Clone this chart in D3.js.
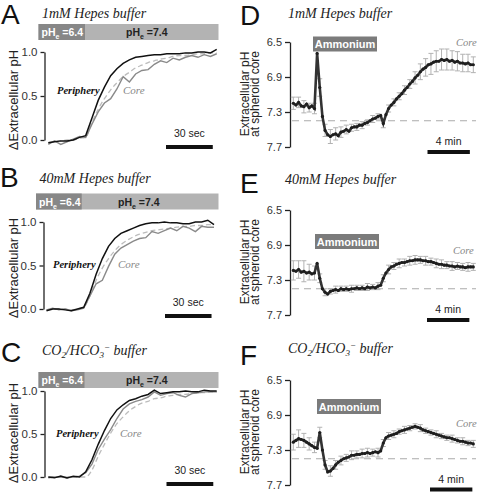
<!DOCTYPE html>
<html><head><meta charset="utf-8">
<script src="https://cdn.jsdelivr.net/npm/d3@7"></script>
<style>body{margin:0;background:#fff}svg{display:block}</style>
</head><body>
<svg id="c" width="477" height="492"></svg>
<script>
// ---------- DATA ----------
const secT = [0,4,8,12,16,20,24,28,32,36,40,44,48,52,56,60,64,68,72,76,80,84,88,92,96,100,104,108];
const leftTicks = [0, 0.5, 1.0];
const rightTicks = [6.5, 6.9, 7.3, 7.7];

const periA = [-0.03,-0.02,-0.01,-0.01,0.00,0.03,0.05,0.25,0.45,0.60,0.73,0.81,0.87,0.91,0.94,0.95,0.96,0.97,0.97,0.98,0.98,0.98,0.99,0.99,1.00,1.00,0.99,1.03];
const coreA = [-0.05,-0.01,-0.05,-0.02,0.01,0.04,0.03,0.18,0.32,0.42,0.47,0.58,0.72,0.66,0.75,0.79,0.80,0.86,0.90,0.88,0.93,0.91,0.94,0.96,0.94,0.97,0.95,0.98];
const fitA  = [-0.03,-0.02,-0.01,0.00,0.00,0.02,0.03,0.20,0.35,0.47,0.57,0.65,0.72,0.77,0.82,0.85,0.88,0.90,0.92,0.93,0.95,0.96,0.96,0.97,0.98,0.98,0.99,0.99];

const periB = [-0.02,0.00,0.00,-0.01,-0.02,0.00,0.02,0.18,0.40,0.58,0.72,0.81,0.87,0.90,0.93,0.96,0.98,0.99,0.99,1.00,0.99,0.99,0.98,0.98,1.00,1.00,1.02,0.97];
const coreB = [-0.01,0.01,-0.01,0.00,-0.02,-0.01,0.01,0.15,0.29,0.33,0.49,0.63,0.70,0.74,0.78,0.81,0.82,0.89,0.87,0.90,0.93,0.90,0.95,0.93,0.89,0.95,0.94,0.94];
const fitB  = [-0.01,0.00,0.00,0.00,-0.01,0.00,0.02,0.15,0.33,0.47,0.58,0.67,0.74,0.79,0.83,0.86,0.88,0.90,0.91,0.92,0.93,0.94,0.95,0.95,0.96,0.96,0.97,0.97];

const periC = [0.00,-0.01,0.01,-0.01,0.01,0.00,0.06,0.20,0.38,0.54,0.68,0.78,0.84,0.89,0.91,0.94,0.96,1.01,0.97,0.98,0.99,0.99,1.00,0.99,0.99,1.01,1.00,1.00];
const coreC = [-0.01,0.00,0.00,-0.01,0.00,0.01,0.05,0.15,0.32,0.44,0.55,0.68,0.79,0.85,0.88,0.90,0.93,0.99,0.95,0.97,0.98,0.95,0.93,0.97,0.98,0.99,0.99,0.99];
const fitC  = [0.00,0.00,0.00,0.00,0.00,0.00,0.00,0.08,0.24,0.38,0.51,0.62,0.70,0.77,0.82,0.86,0.88,0.91,0.92,0.94,0.95,0.96,0.96,0.97,0.98,0.98,0.99,0.99];

const minT = [0,0.25,0.5,0.75,1,1.25,1.5,1.75,2,2.25,2.5,2.75,3,3.25,3.5,3.75,4,4.25,4.5,4.75,5,5.25,5.5,5.75,6,6.25,6.5,6.75,7,7.25,7.5,7.75,8,8.25,8.5,8.75,9,9.25,9.5,9.75,10,10.25,10.5,10.75,11,11.25,11.5,11.75,12,12.25,12.5,12.75,13,13.25,13.5,13.75,14,14.25,14.5,14.75,15,15.25,15.5,15.75,16,16.25,16.5,16.75,17];
const errT = [0,0.5,1,1.5,2,2.5,3,3.5,4,4.5,5,5.5,6,6.5,7,7.5,8,8.5,9,9.5,10,10.5,11,11.5,12,12.5,13,13.5,14,14.5,15,15.5,16,16.5,17];

const phD = [7.20,7.22,7.19,7.23,7.24,7.21,7.25,7.23,7.26,6.63,7.02,7.35,7.51,7.56,7.58,7.56,7.55,7.57,7.53,7.52,7.50,7.52,7.48,7.47,7.47,7.45,7.45,7.43,7.42,7.40,7.38,7.37,7.35,7.34,7.43,7.33,7.26,7.22,7.19,7.15,7.12,7.09,7.05,7.02,6.98,6.95,6.91,6.88,6.84,6.81,6.79,6.76,6.75,6.73,6.72,6.72,6.70,6.71,6.70,6.72,6.71,6.73,6.72,6.74,6.74,6.75,6.74,6.76,6.76];
const errD = [0.07,0.06,0.07,0.05,0.06,0.10,0.07,0.08,0.07,0.06,0.05,0.04,0.04,0.04,0.03,0.04,0.03,0.05,0.04,0.04,0.04,0.05,0.05,0.07,0.09,0.10,0.12,0.12,0.12,0.12,0.11,0.11,0.10,0.10,0.09];

const phE = [7.19,7.20,7.18,7.21,7.20,7.22,7.21,7.23,7.22,7.11,7.28,7.40,7.44,7.46,7.43,7.42,7.41,7.42,7.40,7.41,7.40,7.41,7.40,7.40,7.39,7.40,7.39,7.40,7.38,7.39,7.38,7.39,7.37,7.36,7.28,7.22,7.18,7.15,7.14,7.12,7.11,7.10,7.10,7.09,7.08,7.08,7.07,7.07,7.07,7.08,7.08,7.09,7.09,7.10,7.11,7.12,7.12,7.13,7.13,7.14,7.14,7.15,7.14,7.15,7.15,7.16,7.15,7.15,7.15];
const errE = [0.11,0.10,0.12,0.09,0.08,0.05,0.04,0.03,0.04,0.03,0.03,0.04,0.03,0.03,0.04,0.03,0.04,0.04,0.05,0.04,0.05,0.04,0.05,0.05,0.04,0.05,0.04,0.05,0.05,0.04,0.05,0.04,0.04,0.05,0.04];

const phF = [7.21,7.19,7.17,7.18,7.19,7.21,7.23,7.25,7.27,7.28,7.10,7.30,7.47,7.55,7.54,7.51,7.47,7.44,7.42,7.40,7.39,7.38,7.36,7.36,7.35,7.35,7.34,7.34,7.33,7.34,7.33,7.32,7.33,7.31,7.22,7.16,7.14,7.13,7.12,7.11,7.09,7.08,7.07,7.06,7.05,7.04,7.03,7.04,7.05,7.07,7.08,7.09,7.10,7.11,7.12,7.13,7.14,7.15,7.16,7.16,7.17,7.18,7.19,7.20,7.20,7.21,7.22,7.22,7.23];
const errF = [0.09,0.10,0.08,0.07,0.06,0.06,0.05,0.06,0.05,0.05,0.04,0.05,0.04,0.05,0.05,0.04,0.05,0.04,0.04,0.04,0.03,0.04,0.03,0.03,0.04,0.03,0.03,0.04,0.03,0.03,0.04,0.03,0.04,0.03,0.04];

const restPH = 7.4;
const phLow = "6.4", phHigh = "7.4";

// ---------- DRAWING ----------
const svg = d3.select('#c');
const SANS = "'Liberation Sans', Arial, sans-serif";
const SERIF = "'Liberation Serif', 'Times New Roman', serif";

function letter(x, y, t) {
  svg.append('text').attr('x', x).attr('y', y).text(t)
    .style('font-family', SANS).style('font-size', '28px').attr('fill', '#111');
}
function title(g, x, y, parts) {
  const t = g.append('text').attr('x', x).attr('y', y)
    .style('font-family', SERIF).style('font-style', 'italic').style('font-size', '14px').attr('fill', '#222');
  parts.forEach(p => {
    const s = t.append('tspan').text(p.t);
    if (p.dy) s.attr('dy', p.dy);
    if (p.small) s.style('font-size', '9px');
  });
}
function phText(g, x, y, val, fill) {
  const t = g.append('text').attr('x', x).attr('y', y)
    .style('font-family', SANS).style('font-weight', 'bold').style('font-size', '10.5px').attr('fill', fill);
  t.append('tspan').text('pH');
  t.append('tspan').text('e').attr('dy', 3).style('font-size', '7px');
  t.append('tspan').text(' =' + val).attr('dy', -3);
}

function leftPanel(p) {
  const g = svg.append('g');
  const x = d3.scaleLinear().domain([0, 108]).range([p.x0, p.x1]);
  const y = d3.scaleLinear().domain([0, 1]).range([p.yZero, p.yOne]);
  letter(p.lx, p.ly, p.letter);
  title(g, p.tx, p.ty, p.title);
  g.append('rect').attr('x', p.barX0).attr('y', p.barY).attr('width', p.barX1 - p.barX0).attr('height', 16).attr('fill', '#b3b3b3');
  g.append('rect').attr('x', p.barX0).attr('y', p.barY).attr('width', p.barDark - p.barX0).attr('height', 16).attr('fill', '#878787');
  phText(g, p.barX0 + 3, p.barY + 12, phLow, '#fff');
  phText(g, p.hiX, p.barY + 12, phHigh, '#222');
  const ax = g.append('g').attr('transform', `translate(${p.ax},0)`)
    .call(d3.axisLeft(y).tickValues(leftTicks).tickFormat(d3.format('.1f')).tickSize(4).tickSizeOuter(0).tickPadding(3));
  ax.select('.domain').attr('stroke', '#222').attr('stroke-width', 1.3);
  ax.selectAll('.tick line').attr('stroke', '#222').attr('stroke-width', 1.3);
  ax.selectAll('.tick text').style('font-family', SANS).style('font-size', '11.5px').attr('fill', '#333');
  g.append('text').attr('transform', `translate(17.5,${p.labY}) rotate(-90)`).attr('text-anchor', 'middle')
    .style('font-family', SANS).style('font-size', '13px').attr('fill', '#222').text('\u0394Extracellular pH');
  const mk = arr => secT.map((t, i) => [t, arr[i]]);
  const line = d3.line().x(d => x(d[0])).y(d => y(d[1]));
  const smooth = d3.line().x(d => x(d[0])).y(d => y(d[1])).curve(d3.curveMonotoneX);
  g.append('path').attr('d', smooth(mk(p.fit))).attr('fill', 'none').attr('stroke', '#bcbcbc').attr('stroke-width', 1.3).attr('stroke-dasharray', '5,3');
  g.append('path').attr('d', line(mk(p.core))).attr('fill', 'none').attr('stroke', '#8a8a8a').attr('stroke-width', 1.4);
  g.append('path').attr('d', line(mk(p.peri))).attr('fill', 'none').attr('stroke', '#111').attr('stroke-width', 1.5);
  g.append('text').attr('x', p.px).attr('y', p.py).text('Periphery')
    .style('font-family', SERIF).style('font-style', 'italic').style('font-weight', 'bold').style('font-size', '10.5px').attr('fill', '#111');
  g.append('text').attr('x', p.cx).attr('y', p.py).text('Core')
    .style('font-family', SERIF).style('font-style', 'italic').style('font-size', '11px').attr('fill', '#888');
  const w = x(30) - x(0);
  g.append('rect').attr('x', p.sbx).attr('y', p.sby - 2).attr('width', w).attr('height', 4).attr('fill', '#111');
  g.append('text').attr('x', p.sbx + w / 2).attr('y', p.sby - 10).attr('text-anchor', 'middle')
    .style('font-family', SANS).style('font-size', '10.5px').attr('fill', '#222').text('30 sec');
}

function rightPanel(p) {
  const g = svg.append('g');
  const x = d3.scaleLinear().domain([0, 17]).range([293.3, 473.3]);
  const y = d3.scaleLinear().domain([6.5, 7.7]).range([p.yTop, p.yBot]);
  letter(240, p.ly, p.letter);
  title(g, p.tx, p.ty, p.title);
  const ax = g.append('g').attr('transform', 'translate(290,0)')
    .call(d3.axisLeft(y).tickValues(rightTicks).tickFormat(d3.format('.1f')).tickSize(5).tickSizeOuter(0).tickPadding(3));
  ax.select('.domain').attr('stroke', '#222').attr('stroke-width', 1.3);
  ax.selectAll('.tick line').attr('stroke', '#222').attr('stroke-width', 1.3);
  ax.selectAll('.tick text').style('font-family', SANS).style('font-size', '11px').attr('fill', '#333');
  const lab = g.append('text').attr('transform', `translate(0,${p.labY}) rotate(-90)`).attr('text-anchor', 'middle')
    .style('font-family', SANS).style('font-size', '12px').attr('fill', '#222');
  lab.append('tspan').attr('x', 0).attr('y', 248.5).text('Extracellular pH');
  lab.append('tspan').attr('x', 0).attr('y', 259).text('at spheroid core');
  g.append('line').attr('x1', 292).attr('x2', 476).attr('y1', y(restPH)).attr('y2', y(restPH))
    .attr('stroke', '#ababab').attr('stroke-width', 1.2).attr('stroke-dasharray', '7,5');
  errT.forEach((t, i) => {
    const v = p.ph[minT.indexOf(t)], e = p.err[i], xx = x(t);
    g.append('line').attr('x1', xx).attr('x2', xx).attr('y1', y(v - e)).attr('y2', y(v + e)).attr('stroke', '#b2b2b2').attr('stroke-width', 1);
    [v - e, v + e].forEach(c => g.append('line').attr('x1', xx - 2.5).attr('x2', xx + 2.5).attr('y1', y(c)).attr('y2', y(c)).attr('stroke', '#b2b2b2').attr('stroke-width', 1));
  });
  const pts = minT.map((t, i) => [t, p.ph[i]]);
  g.append('path').attr('d', d3.line().x(d => x(d[0])).y(d => y(d[1]))(pts))
    .attr('fill', 'none').attr('stroke', '#333').attr('stroke-width', 2.6);
  g.selectAll(null).data(pts).enter().append('circle').attr('cx', d => x(d[0])).attr('cy', d => y(d[1])).attr('r', 1.6).attr('fill', '#1e1e1e');
  g.append('rect').attr('x', p.bx).attr('y', p.by).attr('width', 64).attr('height', 15).attr('fill', '#7b7b7b');
  g.append('text').attr('x', p.bx + 32).attr('y', p.by + 11.5).attr('text-anchor', 'middle')
    .style('font-family', SANS).style('font-weight', 'bold').style('font-size', '11px').attr('fill', '#fff').text('Ammonium');
  g.append('text').attr('x', p.cx).attr('y', p.cy).text('Core')
    .style('font-family', SERIF).style('font-style', 'italic').style('font-size', '10.5px').attr('fill', '#888');
  const w = x(4) - x(0);
  g.append('rect').attr('x', p.sbx).attr('y', p.sby - 2).attr('width', w).attr('height', 4).attr('fill', '#111');
  g.append('text').attr('x', p.sbx + w / 2).attr('y', p.sby - 7).attr('text-anchor', 'middle')
    .style('font-family', SANS).style('font-size', '10.5px').attr('fill', '#222').text('4 min');
}

const tA = [{t: '1mM Hepes buffer'}];
const tB = [{t: '40mM Hepes buffer'}];
const tC = [{t: 'CO'}, {t: '2', dy: 3, small: true}, {t: '/HCO', dy: -3}, {t: '3', dy: 3, small: true}, {t: '\u2212', dy: -8, small: true}, {t: ' buffer', dy: 5}];

leftPanel({letter: 'A', lx: 1, ly: 24, tx: 42, ty: 18, title: tA,
  barX0: 38.5, barX1: 218.5, barY: 24, barDark: 85, hiX: 126,
  ax: 44.5, x0: 48.3, x1: 216.7, yZero: 140, yOne: 52, labY: 100,
  peri: periA, core: coreA, fit: fitA, px: 57, cx: 123, py: 94, sbx: 166, sby: 147});
leftPanel({letter: 'B', lx: 0, ly: 187, tx: 39.5, ty: 183, title: tB,
  barX0: 36, barX1: 218.5, barY: 193.5, barDark: 81.7, hiX: 118,
  ax: 43.5, x0: 46.5, x1: 214, yZero: 309, yOne: 222, labY: 268,
  peri: periB, core: coreB, fit: fitB, px: 53, cx: 118, py: 268, sbx: 165, sby: 316});
leftPanel({letter: 'C', lx: 1, ly: 362, tx: 42, ty: 355, title: tC,
  barX0: 38.5, barX1: 218.5, barY: 372, barDark: 84.5, hiX: 126,
  ax: 44.5, x0: 48.3, x1: 216.7, yZero: 477, yOne: 391, labY: 433,
  peri: periC, core: coreC, fit: fitC, px: 56, cx: 120, py: 437, sbx: 166.5, sby: 484});

rightPanel({letter: 'D', ly: 25, tx: 288, ty: 17.5, title: tA, yTop: 42, yBot: 147, labY: 94,
  ph: phD, err: errD, bx: 313, by: 36.5, cx: 456, cy: 46, sbx: 427.5, sby: 152});
rightPanel({letter: 'E', ly: 193, tx: 285, ty: 184, title: tB, yTop: 210, yBot: 315, labY: 262,
  ph: phE, err: errE, bx: 315, by: 234, cx: 453, cy: 254, sbx: 427, sby: 320});
rightPanel({letter: 'F', ly: 365, tx: 288, ty: 353, title: tC, yTop: 380, yBot: 485, labY: 432,
  ph: phF, err: errF, bx: 317, by: 399, cx: 456, cy: 427, sbx: 430, sby: 489.5});
</script>
</body></html>
